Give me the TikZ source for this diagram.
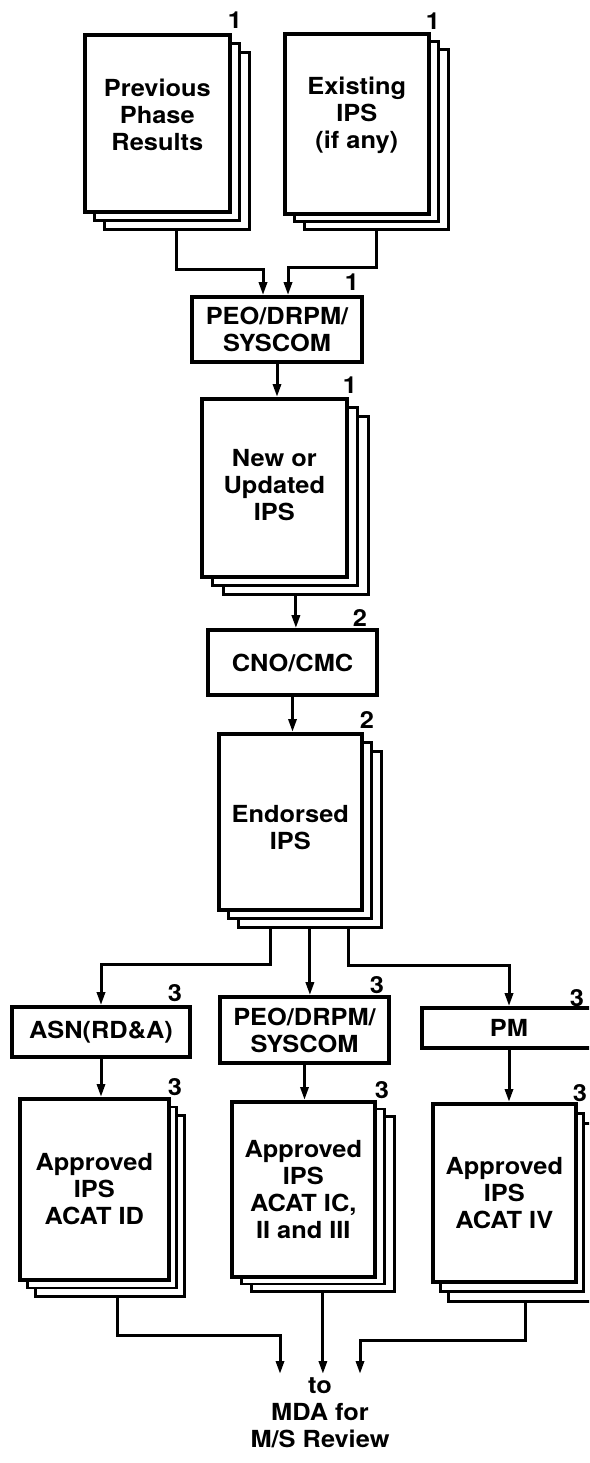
\documentclass[tikz,border=0pt]{standalone}
\usepackage{fontspec}
\setmainfont{TeX Gyre Heros}[FakeStretch=1.08]
\usetikzlibrary{arrows.meta,calc}
\newcommand\bigf{\fontsize{23.5}{27}\selectfont\bfseries}
\tikzset{
  sheet/.style={draw,line width=2.8pt,fill=white,anchor=north west,inner sep=0pt},
  frontsheet/.style={sheet,line width=3.6pt},
  box/.style={draw,line width=3.6pt,fill=white,inner sep=0pt,align=center,font=\bigf},
  txt/.style={align=center,font=\bigf},
  num/.style={font=\bigf,inner sep=0pt},
  arr/.style={line width=3pt,-{Triangle[length=13pt,width=8pt]}},
}
% name, x, y, w, h, dx, dy, text shift, text
\newcommand\stackdoc[9]{%
  \node[sheet,minimum width=#4,minimum height=#5] (#13) at ({#2+2*#6},{#3+2*#7}) {};
  \node[sheet,minimum width=#4,minimum height=#5] (#12) at ({#2+#6},{#3+#7}) {};
  \node[frontsheet,minimum width=#4,minimum height=#5] (#1) at (#2,#3) {};
  \node[txt] (#1t) at ($(#1.center)+(0,#8)$) {#9};
}
\begin{document}
\begin{tikzpicture}[x=1pt,y=-1pt]
\useasboundingbox (0,0) rectangle (589,1463);
\clip (0,0) rectangle (589,1463);
\fill[white] (0,0) rectangle (589,1463);

% top documents
\stackdoc{prev}{83}{33}{145}{177}{10}{9}{-8}{Previous\\Phase\\Results}
\stackdoc{exist}{283}{32}{144}{180}{10}{8}{-8}{Existing\\IPS\\(if any)}
\node[num] (nprev) at (235,20) {1};
\node[num] (nexist) at (433,21) {1};

% first approval box
\node[box,minimum width=170,minimum height=65] (peo1) at (277,329.5) {PEO/DRPM/\\SYSCOM};
\node[num] (npeo1) at (352,282) {1};

\stackdoc{new}{200}{397}{145}{178}{11}{9}{-3}{New or\\Updated\\IPS}
\node[num] (nnew) at (350,385) {1};

\node[box,minimum width=169,minimum height=65] (cno) at (292.5,662.5) {CNO/CMC};
\node[num] (ncno) at (360,618) {2};

\stackdoc{end}{217}{732}{143}{176}{10}{9}{6}{Endorsed\\IPS}
\node[num] (nend) at (367,720) {2};

% third level boxes
\node[box,minimum width=178,minimum height=50] (asn) at (101,1032) {ASN(RD\&A)};
\node[num] (nasn) at (175,993) {3};
\node[box,minimum width=169,minimum height=66] (peo2) at (304.5,1030) {PEO/DRPM/\\SYSCOM};
\node[num] (npeo2) at (377,985) {3};
\node[box,minimum width=174,minimum height=40] (pm) at (509,1028) {PM};
\node[num] (npm) at (577,998) {3};

% approved documents
\stackdoc{aid}{18}{1097}{149}{181}{8}{8.5}{0}{Approved\\IPS\\ACAT ID}
\node[num] (naid) at (175,1087) {3};
\stackdoc{amid}{230}{1100}{143}{175}{10}{7.5}{0}{Approved\\IPS\\ACAT IC,\\II and III}
\node[num] (namid) at (382,1090) {3};
\stackdoc{aiv}{431}{1102}{143}{178}{8}{10}{0}{Approved\\IPS\\ACAT IV}
\node[num] (naiv) at (580,1093) {3};

\node[txt,anchor=north] (mda) at (320,1374) {to\\MDA for\\M/S Review};

% connectors
\draw[arr] (prev3.south) -- ++(0,39) -| ([xshift=-14pt]peo1.north);
\draw[arr] (exist3.south) -- ++(0,37) -| ([xshift=11pt]peo1.north);
\draw[arr] (peo1.south) -- (peo1.south |- new.north);
\draw[arr] (new3.south) -- (new3.south |- cno.north);
\draw[arr] (cno.south) -- (cno.south |- end.north);
\draw[arr] (end3.south) -- (end3.south |- peo2.north);
\draw[arr] ([xshift=-39pt]end3.south) -- ++(0,36) -| (asn.north);
\draw[arr] ([xshift=39pt]end3.south) -- ++(0,37) -| (pm.north);
\draw[arr] (asn.south) -- (asn.south |- aid.north);
\draw[arr] (peo2.south) -- (peo2.south |- amid.north);
\draw[arr] (pm.south) -- (pm.south |- aiv.north);
\draw[arr] ([xshift=8pt]aid3.south) -- ++(0,38) -| ([xshift=-40pt]mda.north);
\draw[arr] (amid3.south) -- (amid3.south |- mda.north);
\draw[arr] ([xshift=6pt]aiv3.south) -- ++(0,38) -| ([xshift=40pt]mda.north);
\end{tikzpicture}
\end{document}
